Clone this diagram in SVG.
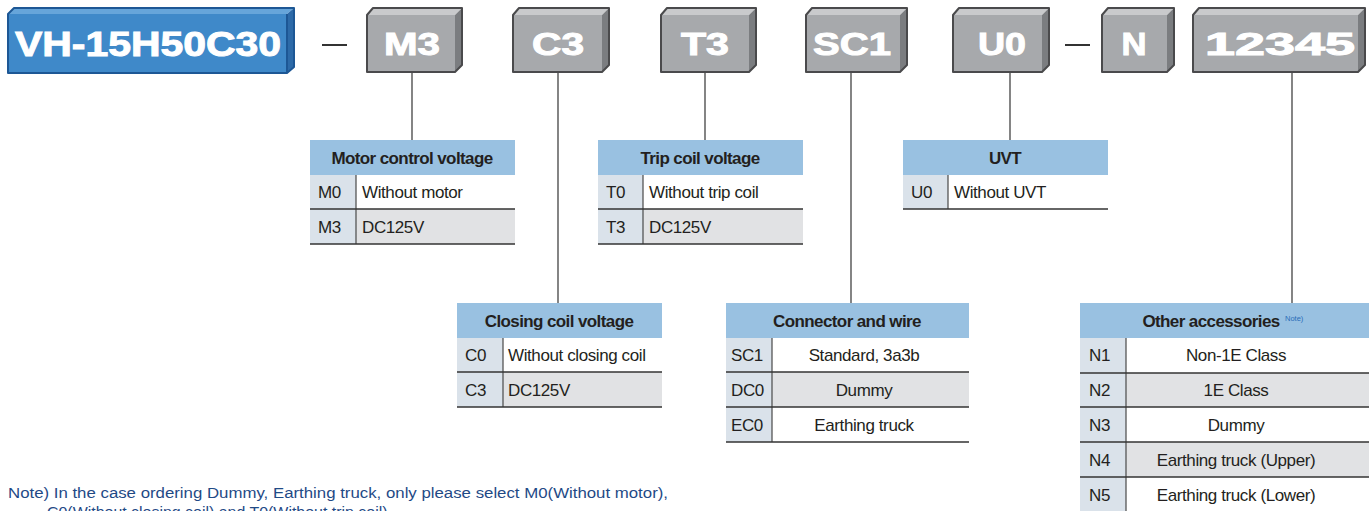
<svg xmlns="http://www.w3.org/2000/svg" width="1369" height="511" viewBox="0 0 1369 511">
<style>
.bf{fill:#3f89c9}.bt{fill:#66a5da}.br{fill:#2d6aa8}.bo{fill:none;stroke:#1d5795;stroke-width:2;stroke-linejoin:round}
.gf{fill:#a7a9ac}.gt{fill:#c9cacc}.gr{fill:#7b7d80}.go{fill:none;stroke:#4a4a4c;stroke-width:2;stroke-linejoin:round}
.bx{font-family:"Liberation Sans",Arial,sans-serif;font-weight:bold;fill:#ffffff;stroke:#ffffff;stroke-width:1;text-anchor:middle}
.hd{fill:#99c1e1}.cd{fill:#dae2ea}.w{fill:#ffffff}.g{fill:#e1e2e4}
.ht{font-family:"Liberation Sans",Arial,sans-serif;font-weight:bold;font-size:17px;fill:#231f20;text-anchor:middle;letter-spacing:-0.6px}
.tx{font-family:"Liberation Sans",Arial,sans-serif;font-size:17px;fill:#231f20;letter-spacing:-0.4px}
.tc{text-anchor:middle}
.hl{stroke:#333333;stroke-width:1.3}.vl{stroke:#555555;stroke-width:1.3}
.cn{stroke:#333333;stroke-width:1.2;fill:none}
.nt{font-family:"Liberation Sans",Arial,sans-serif;font-size:15.5px;fill:#1f4a86}
</style>
<g id="connectors">
<line class="cn" x1="412" y1="73" x2="412" y2="140"/>
<line class="cn" x1="558" y1="73" x2="558" y2="303"/>
<line class="cn" x1="705" y1="73" x2="705" y2="140"/>
<line class="cn" x1="851" y1="73" x2="851" y2="303"/>
<line class="cn" x1="1010" y1="73" x2="1010" y2="140"/>
<line class="cn" x1="1292" y1="73" x2="1292" y2="303"/>
<line x1="322" y1="45" x2="347" y2="45" stroke="#333" stroke-width="2"/>
<line x1="1065" y1="45" x2="1090" y2="45" stroke="#333" stroke-width="2"/>
</g>
<g id="box-model">
<rect class="bf" x="8" y="14" width="279" height="59"/>
<polygon class="bt" points="8,14 14,8 294,8 287,14"/>
<polygon class="br" points="287,14 294,8 294,67 287,73"/>
<path class="bo" d="M8,14 L14,8 L294,8 L294,67 L287,73 L8,73 Z M287,14 L287,73"/>
<text class="bx" x="148" y="56" font-size="35" textLength="266" lengthAdjust="spacingAndGlyphs">VH-15H50C30</text>
</g>
<g id="box-M3">
<rect class="gf" x="367" y="15" width="88" height="57"/>
<polygon class="gt" points="367,15 373,8 462,8 455,15"/>
<polygon class="gr" points="455,15 462,8 462,65 455,72"/>
<path class="go" d="M367,15 L373,8 L462,8 L462,65 L455,72 L367,72 Z"/>
<text class="bx" x="412" y="55" font-size="32" textLength="56" lengthAdjust="spacingAndGlyphs">M3</text>
</g>
<g id="box-C3">
<rect class="gf" x="513" y="15" width="89" height="57"/>
<polygon class="gt" points="513,15 519,8 609,8 602,15"/>
<polygon class="gr" points="602,15 609,8 609,65 602,72"/>
<path class="go" d="M513,15 L519,8 L609,8 L609,65 L602,72 L513,72 Z"/>
<text class="bx" x="558" y="55" font-size="32" textLength="52" lengthAdjust="spacingAndGlyphs">C3</text>
</g>
<g id="box-T3">
<rect class="gf" x="661" y="15" width="88" height="57"/>
<polygon class="gt" points="661,15 667,8 756,8 749,15"/>
<polygon class="gr" points="749,15 756,8 756,65 749,72"/>
<path class="go" d="M661,15 L667,8 L756,8 L756,65 L749,72 L661,72 Z"/>
<text class="bx" x="705" y="55" font-size="32" textLength="48" lengthAdjust="spacingAndGlyphs">T3</text>
</g>
<g id="box-SC1">
<rect class="gf" x="806" y="15" width="94" height="57"/>
<polygon class="gt" points="806,15 812,8 907,8 900,15"/>
<polygon class="gr" points="900,15 907,8 907,65 900,72"/>
<path class="go" d="M806,15 L812,8 L907,8 L907,65 L900,72 L806,72 Z"/>
<text class="bx" x="852" y="55" font-size="32" textLength="78" lengthAdjust="spacingAndGlyphs">SC1</text>
</g>
<g id="box-U0">
<rect class="gf" x="953" y="15" width="89" height="57"/>
<polygon class="gt" points="953,15 959,8 1049,8 1042,15"/>
<polygon class="gr" points="1042,15 1049,8 1049,65 1042,72"/>
<path class="go" d="M953,15 L959,8 L1049,8 L1049,65 L1042,72 L953,72 Z"/>
<text class="bx" x="1002" y="55" font-size="32" textLength="48" lengthAdjust="spacingAndGlyphs">U0</text>
</g>
<g id="box-N">
<rect class="gf" x="1102" y="15" width="65" height="57"/>
<polygon class="gt" points="1102,15 1108,8 1174,8 1167,15"/>
<polygon class="gr" points="1167,15 1174,8 1174,65 1167,72"/>
<path class="go" d="M1102,15 L1108,8 L1174,8 L1174,65 L1167,72 L1102,72 Z"/>
<text class="bx" x="1134" y="55" font-size="32" textLength="25" lengthAdjust="spacingAndGlyphs">N</text>
</g>
<g id="box-12345">
<rect class="gf" x="1193" y="15" width="165" height="57"/>
<polygon class="gt" points="1193,15 1199,8 1365,8 1358,15"/>
<polygon class="gr" points="1358,15 1365,8 1365,65 1358,72"/>
<path class="go" d="M1193,15 L1199,8 L1365,8 L1365,65 L1358,72 L1193,72 Z"/>
<text class="bx" x="1280" y="55" font-size="32" textLength="150" lengthAdjust="spacingAndGlyphs">12345</text>
</g>
<g id="table-motor">
<rect class="hd" x="310" y="140" width="205" height="35"/>
<text class="ht" x="412" y="164">Motor control voltage</text>
<rect class="cd" x="310" y="175" width="46" height="69"/>
<rect class="w" x="356" y="175" width="159" height="34"/>
<rect class="g" x="356" y="209" width="159" height="35"/>
<line class="vl" x1="356" y1="175" x2="356" y2="244"/>
<line class="hl" x1="310" y1="209" x2="515" y2="209"/>
<line class="hl" x1="310" y1="244" x2="515" y2="244"/>
<text class="tx" x="318" y="198">M0</text><text class="tx" x="362" y="198">Without motor</text>
<text class="tx" x="318" y="233">M3</text><text class="tx" x="362" y="233">DC125V</text>
</g>
<g id="table-trip">
<rect class="hd" x="598" y="140" width="205" height="35"/>
<text class="ht" x="700" y="164">Trip coil voltage</text>
<rect class="cd" x="598" y="175" width="45" height="69"/>
<rect class="w" x="643" y="175" width="160" height="34"/>
<rect class="g" x="643" y="209" width="160" height="35"/>
<line class="vl" x1="643" y1="175" x2="643" y2="244"/>
<line class="hl" x1="598" y1="209" x2="803" y2="209"/>
<line class="hl" x1="598" y1="244" x2="803" y2="244"/>
<text class="tx" x="606" y="198">T0</text><text class="tx" x="649" y="198">Without trip coil</text>
<text class="tx" x="606" y="233">T3</text><text class="tx" x="649" y="233">DC125V</text>
</g>
<g id="table-uvt">
<rect class="hd" x="903" y="140" width="205" height="35"/>
<text class="ht" x="1005" y="164">UVT</text>
<rect class="cd" x="903" y="175" width="45" height="34"/>
<rect class="w" x="948" y="175" width="160" height="34"/>
<line class="vl" x1="948" y1="175" x2="948" y2="209"/>
<line class="hl" x1="903" y1="209" x2="1108" y2="209"/>
<text class="tx" x="911" y="198">U0</text><text class="tx" x="954" y="198">Without UVT</text>
</g>
<g id="table-closing">
<rect class="hd" x="457" y="303" width="205" height="35"/>
<text class="ht" x="559" y="327">Closing coil voltage</text>
<rect class="cd" x="457" y="338" width="46" height="69"/>
<rect class="w" x="503" y="338" width="159" height="34"/>
<rect class="g" x="503" y="372" width="159" height="35"/>
<line class="vl" x1="503" y1="338" x2="503" y2="407"/>
<line class="hl" x1="457" y1="372" x2="662" y2="372"/>
<line class="hl" x1="457" y1="407" x2="662" y2="407"/>
<text class="tx" x="465" y="361">C0</text><text class="tx" x="508" y="361">Without closing coil</text>
<text class="tx" x="465" y="396">C3</text><text class="tx" x="508" y="396">DC125V</text>
</g>
<g id="table-connector">
<rect class="hd" x="726" y="303" width="243" height="35"/>
<text class="ht" x="847" y="327">Connector and wire</text>
<rect class="cd" x="726" y="338" width="46" height="104"/>
<rect class="w" x="772" y="338" width="197" height="34"/>
<rect class="g" x="772" y="372" width="197" height="35"/>
<rect class="w" x="772" y="407" width="197" height="35"/>
<line class="vl" x1="772" y1="338" x2="772" y2="442"/>
<line class="hl" x1="726" y1="372" x2="969" y2="372"/>
<line class="hl" x1="726" y1="407" x2="969" y2="407"/>
<line class="hl" x1="726" y1="442" x2="969" y2="442"/>
<text class="tx" x="731" y="361">SC1</text><text class="tx tc" x="864" y="361">Standard, 3a3b</text>
<text class="tx" x="731" y="396">DC0</text><text class="tx tc" x="864" y="396">Dummy</text>
<text class="tx" x="731" y="431">EC0</text><text class="tx tc" x="864" y="431">Earthing truck</text>
</g>
<g id="table-other">
<rect class="hd" x="1080" y="303" width="289" height="35"/>
<text class="ht" x="1211" y="327">Other accessories</text>
<text x="1285" y="321" font-family="Liberation Sans,Arial,sans-serif" font-size="7.5" fill="#2a6db8">Note)</text>
<rect class="cd" x="1080" y="338" width="46" height="173"/>
<rect class="w" x="1126" y="338" width="243" height="35"/>
<rect class="g" x="1126" y="373" width="243" height="34"/>
<rect class="w" x="1126" y="407" width="243" height="35"/>
<rect class="g" x="1126" y="442" width="243" height="35"/>
<rect class="w" x="1126" y="477" width="243" height="34"/>
<line class="vl" x1="1126" y1="338" x2="1126" y2="511"/>
<line class="hl" x1="1080" y1="373" x2="1369" y2="373"/>
<line class="hl" x1="1080" y1="407" x2="1369" y2="407"/>
<line class="hl" x1="1080" y1="442" x2="1369" y2="442"/>
<line class="hl" x1="1080" y1="477" x2="1369" y2="477"/>
<text class="tx" x="1089" y="361">N1</text><text class="tx tc" x="1236" y="361">Non-1E Class</text>
<text class="tx" x="1089" y="396">N2</text><text class="tx tc" x="1236" y="396">1E Class</text>
<text class="tx" x="1089" y="431">N3</text><text class="tx tc" x="1236" y="431">Dummy</text>
<text class="tx" x="1089" y="466">N4</text><text class="tx tc" x="1236" y="466">Earthing truck (Upper)</text>
<text class="tx" x="1089" y="501">N5</text><text class="tx tc" x="1236" y="501">Earthing truck (Lower)</text>
</g>
<g id="note">
<text class="nt" x="8" y="498" textLength="660" lengthAdjust="spacingAndGlyphs">Note) In the case ordering Dummy, Earthing truck, only please select M0(Without motor),</text>
<text class="nt" x="47" y="517" textLength="345" lengthAdjust="spacingAndGlyphs">C0(Without closing coil) and T0(Without trip coil).</text>
</g>
</svg>
